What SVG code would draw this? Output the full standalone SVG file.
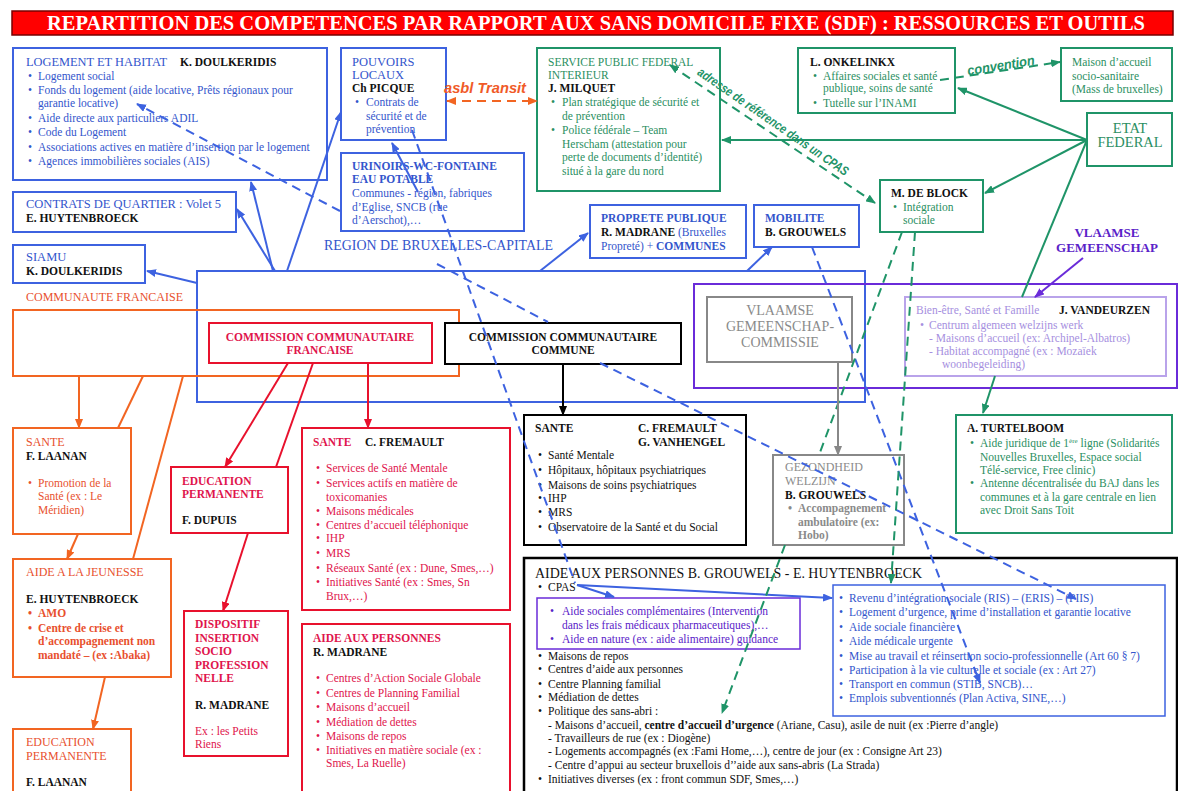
<svg xmlns="http://www.w3.org/2000/svg" width="1178" height="791" viewBox="0 0 1178 791">
<style>
svg{font-family:"Liberation Serif","Times New Roman",serif;font-size:11.5px}
.tb{fill:#3355cc}.tg{fill:#2b8f62}.to{fill:#e8502e}.tr{fill:#e0144c}.tk{fill:#111}
.tp{fill:#5a22c8}.tl{fill:#a68fe0}.tgr{fill:#8a8a8a}
.bd{font-weight:bold}
.box{fill:#fff;stroke-width:2}
.cont{fill:none;stroke-width:2}
.bb{stroke:#3d62e0}.bg{stroke:#1f9468}.bo{stroke:#f26522}.br{stroke:#e8112d}.bk{stroke:#000}
.bp{stroke:#6a2bd9}.bl{stroke:#b9a3ea}.bgr{stroke:#888}
.ln{fill:none;stroke-width:2}
.dash{stroke-dasharray:9 6}
.lab{font-family:"Liberation Sans",Arial,sans-serif;font-style:italic;font-weight:bold}
.cap{font-size:12.5px}
.c12{font-size:12px}
</style>
<defs>
<marker id="mb" viewBox="0 0 10 8" refX="9" refY="4" markerWidth="5" markerHeight="4" orient="auto-start-reverse"><path d="M0,0L10,4L0,8z" fill="#3d62e0"/></marker>
<marker id="mg" viewBox="0 0 10 8" refX="9" refY="4" markerWidth="5" markerHeight="4" orient="auto-start-reverse"><path d="M0,0L10,4L0,8z" fill="#1f9468"/></marker>
<marker id="mo" viewBox="0 0 10 8" refX="9" refY="4" markerWidth="5" markerHeight="4" orient="auto-start-reverse"><path d="M0,0L10,4L0,8z" fill="#f26522"/></marker>
<marker id="mr" viewBox="0 0 10 8" refX="9" refY="4" markerWidth="5" markerHeight="4" orient="auto-start-reverse"><path d="M0,0L10,4L0,8z" fill="#e8112d"/></marker>
<marker id="mk" viewBox="0 0 10 8" refX="9" refY="4" markerWidth="5" markerHeight="4" orient="auto-start-reverse"><path d="M0,0L10,4L0,8z" fill="#000"/></marker>
<marker id="mgr" viewBox="0 0 10 8" refX="9" refY="4" markerWidth="5" markerHeight="4" orient="auto-start-reverse"><path d="M0,0L10,4L0,8z" fill="#888"/></marker>
<marker id="mp" viewBox="0 0 10 8" refX="9" refY="4" markerWidth="5" markerHeight="4" orient="auto-start-reverse"><path d="M0,0L10,4L0,8z" fill="#6a2bd9"/></marker>
</defs>
<rect width="1178" height="791" fill="#fff"/>

<g id="title">
<rect x="12" y="11" width="1161" height="24" fill="#ff0000" stroke="#700" stroke-width="1.5"/>
<text x="596" y="30" text-anchor="middle" fill="#fff" font-weight="bold" font-size="21" textLength="1098" lengthAdjust="spacingAndGlyphs">REPARTITION DES COMPETENCES PAR RAPPORT AUX SANS DOMICILE FIXE (SDF) : RESSOURCES ET OUTILS</text>
</g>

<g id="region-bruxelles">
<rect class="cont bb" x="197" y="271" width="668" height="131"/>
<text class="tb" x="324" y="250" font-size="14" textLength="229" lengthAdjust="spacingAndGlyphs">REGION DE BRUXELLES-CAPITALE</text>
</g>
<g id="communaute-francaise">
<text class="to c12" x="26" y="301">COMMUNAUTE FRANCAISE</text>
<rect class="cont bo" x="13" y="310" width="446" height="66"/>
</g>
<g id="vlaamse-gemeenschap">
<rect class="cont bp" x="694" y="284" width="483" height="104"/>
<text class="tp bd" x="1107" y="237" font-size="13" text-anchor="middle">VLAAMSE</text>
<text class="tp bd" x="1107" y="252" font-size="13" text-anchor="middle">GEMEENSCHAP</text>
</g>

<g id="logement">
<rect class="box bb" x="13" y="48" width="314" height="132"/>
<text class="tb" x="26" y="66" font-size="12.4">LOGEMENT ET HABITAT</text>
<text class="tk bd" x="180" y="66">K. DOULKERIDIS</text>
<g class="tb">
<text x="28" y="80">•</text><text x="38" y="80">Logement social</text>
<text x="28" y="94">•</text><text x="38" y="94">Fonds du logement (aide locative, Prêts régionaux pour</text>
<text x="38" y="107">garantie locative)</text>
<text x="28" y="122">•</text><text x="38" y="122">Aide directe aux particuliers ADIL</text>
<text x="28" y="136">•</text><text x="38" y="136">Code du Logement</text>
<text x="28" y="151">•</text><text x="38" y="151">Associations actives en matière d’insertion par le logement</text>
<text x="28" y="165">•</text><text x="38" y="165">Agences immobilières sociales (AIS)</text>
</g>
</g>

<g id="contrats-quartier">
<rect class="box bb" x="13" y="192" width="223" height="40"/>
<text class="tb cap" x="26" y="208">CONTRATS DE QUARTIER : Volet 5</text>
<text class="tk bd" x="26" y="222">E. HUYTENBROECK</text>
</g>

<g id="siamu">
<rect class="box bb" x="13" y="245" width="132" height="38"/>
<text class="tb cap" x="26" y="261">SIAMU</text>
<text class="tk bd" x="26" y="275">K. DOULKERIDIS</text>
</g>

<g id="pouvoirs-locaux">
<rect class="box bb" x="341" y="48" width="105" height="92"/>
<text class="tb cap" x="352" y="66">POUVOIRS</text>
<text class="tb cap" x="352" y="79">LOCAUX</text>
<text class="tk bd" x="352" y="92">Ch PICQUE</text>
<text class="tb" x="355" y="106">•</text><text class="tb" x="366" y="106">Contrats de</text>
<text class="tb" x="366" y="120">sécurité et de</text>
<text class="tb" x="366" y="133">prévention</text>
</g>

<g id="urinoirs">
<rect class="box bb" x="341" y="153" width="183" height="78"/>
<text class="tb bd" x="352" y="170">URINOIRS-WC-FONTAINE</text>
<text class="tb bd" x="352" y="183">EAU POTABLE</text>
<text class="tb" x="352" y="197">Communes -  région, fabriques</text>
<text class="tb" x="352" y="211">d’Eglise, SNCB (rue</text>
<text class="tb" x="352" y="224">d’Aerschot),…</text>
</g>

<g id="spf-interieur">
<rect class="box bg" x="537" y="48" width="183" height="143"/>
<text class="tg" x="548" y="66">SERVICE PUBLIC FEDERAL</text>
<text class="tg" x="548" y="79">INTERIEUR</text>
<text class="tk bd" x="548" y="92">J. MILQUET</text>
<g class="tg">
<text x="551" y="106">•</text><text x="562" y="106">Plan stratégique de sécurité et</text>
<text x="562" y="120">de prévention</text>
<text x="551" y="134">•</text><text x="562" y="134">Police fédérale – Team</text>
<text x="562" y="148">Herscham (attestation pour</text>
<text x="562" y="161">perte de documents d’identité)</text>
<text x="562" y="175">situé à la gare du nord</text>
</g>
</g>

<g id="onkelinkx">
<rect class="box bg" x="798" y="48" width="157" height="65"/>
<text class="tk bd" x="810" y="66">L. ONKELINKX</text>
<g class="tg">
<text x="813" y="80">•</text><text x="823" y="80">Affaires sociales et santé</text>
<text x="823" y="92">publique, soins de santé</text>
<text x="813" y="107">•</text><text x="823" y="107">Tutelle sur l’INAMI</text>
</g>
</g>

<g id="maison-accueil">
<rect class="box bg" x="1061" y="48" width="111" height="53"/>
<text class="tg" x="1072" y="66">Maison d’accueil</text>
<text class="tg" x="1072" y="80">socio-sanitaire</text>
<text class="tg" x="1072" y="93">(Mass de bruxelles)</text>
</g>

<g id="etat-federal">
<rect class="box bg" x="1087" y="113" width="85" height="53"/>
<text class="tg" x="1130" y="133" font-size="14.5" text-anchor="middle">ETAT</text>
<text class="tg" x="1130" y="147" font-size="14.5" text-anchor="middle">FEDERAL</text>
</g>

<g id="de-block">
<rect class="box bg" x="880" y="180" width="103" height="52"/>
<text class="tk bd" x="891" y="197">M. DE BLOCK</text>
<text class="tg" x="893" y="211">•</text><text class="tg" x="903" y="211">Intégration</text>
<text class="tg" x="903" y="224">sociale</text>
</g>

<g id="proprete">
<rect class="box bb" x="590" y="205" width="156" height="53"/>
<text class="tb bd" x="601" y="222">PROPRETE PUBLIQUE</text>
<text x="601" y="236"><tspan class="tk bd">R. MADRANE</tspan><tspan class="tb">  (Bruxelles</tspan></text>
<text x="601" y="250" class="tb">Propreté) + <tspan class="bd">COMMUNES</tspan></text>
</g>

<g id="mobilite">
<rect class="box bb" x="754" y="205" width="105" height="42"/>
<text class="tb bd" x="765" y="222">MOBILITE</text>
<text class="tk bd" x="765" y="236">B. GROUWELS</text>
</g>

<g id="cocof">
<rect class="box br" x="209" y="323" width="223" height="40"/>
<text class="tr bd" x="320" y="341" text-anchor="middle">COMMISSION COMMUNAUTAIRE</text>
<text class="tr bd" x="320" y="354" text-anchor="middle">FRANCAISE</text>
</g>

<g id="cocom">
<rect class="box bk" x="445" y="323" width="236" height="41"/>
<text class="tk bd" x="563" y="341" text-anchor="middle">COMMISSION COMMUNAUTAIRE</text>
<text class="tk bd" x="563" y="354" text-anchor="middle">COMMUNE</text>
</g>

<g id="vgc">
<rect class="box bgr" x="707" y="297" width="145" height="65"/>
<text class="tgr" x="780" y="315" font-size="14" text-anchor="middle">VLAAMSE</text>
<text class="tgr" x="780" y="331" font-size="14" text-anchor="middle">GEMEENSCHAP-</text>
<text class="tgr" x="780" y="347" font-size="14" text-anchor="middle">COMMISSIE</text>
</g>

<g id="bien-etre">
<rect class="box bl" x="905" y="297" width="261" height="79"/>
<text class="tl" x="916" y="314">Bien-être, Santé et Famille</text>
<text class="tk bd" x="1059" y="314">J. VANDEURZEN</text>
<text class="tl" x="920" y="329">•</text><text class="tl" x="929" y="329">Centrum algemeen welzijns werk</text>
<text class="tl" x="929" y="342">- Maisons d’accueil (ex: Archipel-Albatros)</text>
<text class="tl" x="929" y="355">- Habitat accompagné (ex : Mozaïek</text>
<text class="tl" x="942" y="368">woonbegeleiding)</text>
</g>

<g id="turtelboom">
<rect class="box bg" x="956" y="415" width="216" height="118"/>
<text class="tk bd" x="967" y="432">A. TURTELBOOM</text>
<g class="tg">
<text x="970" y="447">•</text><text x="980" y="447">Aide juridique de 1<tspan font-size="7" dy="-4">ère</tspan><tspan dy="4"> ligne (Solidarités</tspan></text>
<text x="980" y="461">Nouvelles Bruxelles, Espace social</text>
<text x="980" y="474">Télé-service, Free clinic)</text>
<text x="970" y="487">•</text><text x="980" y="487">Antenne décentralisée du BAJ dans les</text>
<text x="980" y="501">communes et à la gare centrale en lien</text>
<text x="980" y="514">avec Droit Sans Toit</text>
</g>
</g>

<g id="sante-laanan">
<rect class="box bo" x="13" y="428" width="118" height="106"/>
<text class="to c12" x="26" y="446">SANTE</text>
<text class="tk bd" x="26" y="460">F. LAANAN</text>
<text class="to" x="28" y="487">•</text><text class="to" x="38" y="487">Promotion de la</text>
<text class="to" x="38" y="500">Santé (ex : Le</text>
<text class="to" x="38" y="514">Méridien)</text>
</g>

<g id="aide-jeunesse">
<rect class="box bo" x="13" y="559" width="158" height="118"/>
<text class="to c12" x="26" y="576">AIDE A LA JEUNESSE</text>
<text class="tk bd" x="26" y="603">E. HUYTENBROECK</text>
<g class="to bd">
<text x="28" y="617">•</text><text x="38" y="617">AMO</text>
<text x="28" y="632">•</text><text x="38" y="632">Centre de crise et</text>
<text x="38" y="645">d’accompagnement non</text>
<text x="38" y="659">mandaté – (ex :Abaka)</text>
</g>
</g>

<g id="education-laanan">
<rect class="box bo" x="13" y="729" width="118" height="70"/>
<text class="to c12" x="26" y="746">EDUCATION</text>
<text class="to c12" x="26" y="760">PERMANENTE</text>
<text class="tk bd" x="26" y="786">F. LAANAN</text>
</g>

<g id="education-dupuis">
<rect class="box br" x="171" y="467" width="117" height="66"/>
<text class="tr bd" x="182" y="485">EDUCATION</text>
<text class="tr bd" x="182" y="498">PERMANENTE</text>
<text class="tk bd" x="182" y="524">F. DUPUIS</text>
</g>

<g id="dispositif">
<rect class="box br" x="184" y="611" width="104" height="145"/>
<g class="tr bd">
<text x="195" y="628">DISPOSITIF</text>
<text x="195" y="642">INSERTION</text>
<text x="195" y="655">SOCIO</text>
<text x="195" y="669">PROFESSION</text>
<text x="195" y="682">NELLE</text>
</g>
<text class="tk bd" x="195" y="709">R. MADRANE</text>
<text class="tr" x="195" y="735">Ex : les Petits</text>
<text class="tr" x="195" y="748">Riens</text>
</g>

<g id="sante-fremault">
<rect class="box br" x="302" y="428" width="208" height="182"/>
<text class="tr bd" x="313" y="446">SANTE</text>
<text class="tk bd" x="365" y="446">C. FREMAULT</text>
<g class="tr">
<text x="316" y="472">•</text><text x="326" y="472">Services de Santé Mentale</text>
<text x="316" y="487">•</text><text x="326" y="487">Services actifs en matière de</text>
<text x="326" y="501">toxicomanies</text>
<text x="316" y="515">•</text><text x="326" y="515">Maisons médicales</text>
<text x="316" y="529">•</text><text x="326" y="529">Centres d’accueil téléphonique</text>
<text x="316" y="542">•</text><text x="326" y="542">IHP</text>
<text x="316" y="557">•</text><text x="326" y="557">MRS</text>
<text x="316" y="572">•</text><text x="326" y="572">Réseaux Santé (ex : Dune, Smes,…)</text>
<text x="316" y="586">•</text><text x="326" y="586">Initiatives Santé (ex : Smes, Sn</text>
<text x="326" y="600">Brux,…)</text>
</g>
</g>

<g id="aide-madrane">
<rect class="box br" x="302" y="624" width="208" height="175"/>
<text class="tr bd" x="313" y="642">AIDE AUX PERSONNES</text>
<text class="tk bd" x="313" y="656">R. MADRANE</text>
<g class="tr">
<text x="316" y="682">•</text><text x="326" y="682">Centres d’Action Sociale Globale</text>
<text x="316" y="697">•</text><text x="326" y="697">Centres de Planning Familial</text>
<text x="316" y="711">•</text><text x="326" y="711">Maisons d’accueil</text>
<text x="316" y="726">•</text><text x="326" y="726">Médiation de dettes</text>
<text x="316" y="740">•</text><text x="326" y="740">Maisons de repos</text>
<text x="316" y="754">•</text><text x="326" y="754">Initiatives en matière sociale (ex :</text>
<text x="326" y="767">Smes, La Ruelle)</text>
</g>
</g>

<g id="sante-cocom">
<rect class="box bk" x="524" y="415" width="222" height="130"/>
<text class="tk bd" x="535" y="432">SANTE</text>
<text class="tk bd" x="638" y="432">C. FREMAULT</text>
<text class="tk bd" x="638" y="446">G. VANHENGEL</text>
<g class="tk">
<text x="538" y="459">•</text><text x="548" y="459">Santé Mentale</text>
<text x="538" y="474">•</text><text x="548" y="474">Hôpitaux, hôpitaux psychiatriques</text>
<text x="538" y="489">•</text><text x="548" y="489">Maisons de soins psychiatriques</text>
<text x="538" y="502">•</text><text x="548" y="502">IHP</text>
<text x="538" y="516">•</text><text x="548" y="516">MRS</text>
<text x="538" y="531">•</text><text x="548" y="531">Observatoire de la Santé et du Social</text>
</g>
</g>

<g id="gezondheid">
<rect class="box bgr" x="773" y="455" width="131" height="90"/>
<text class="tgr c12" x="785" y="471">GEZONDHEID</text>
<text class="tgr c12" x="785" y="485">WELZIJN</text>
<text class="tk bd" x="785" y="499">B. GROUWELS</text>
<g class="tgr bd">
<text x="788" y="512">•</text><text x="798" y="512">Accompagnement</text>
<text x="798" y="526">ambulatoire (ex:</text>
<text x="798" y="539">Hobo)</text>
</g>
</g>

<g id="aide-personnes-cocom">
<rect x="524" y="558" width="653" height="240" fill="#fff" stroke="#000" stroke-width="2.5"/>
<text class="tk" x="535" y="578" font-size="14" textLength="387" lengthAdjust="spacingAndGlyphs">AIDE AUX PERSONNES  B. GROUWELS - E. HUYTENBROECK</text>
<text class="tk" x="538" y="591">•</text><text class="tk" x="548" y="591">CPAS</text>
<rect x="537" y="598" width="263" height="51" fill="#fff" stroke="#6a2bd9" stroke-width="1.5"/>
<g class="tp">
<text x="550" y="615">•</text><text x="562" y="615">Aide sociales complémentaires (Intervention</text>
<text x="562" y="629">dans les frais médicaux pharmaceutiques),…</text>
<text x="550" y="643">•</text><text x="562" y="643">Aide en nature (ex : aide alimentaire) guidance</text>
</g>
<g class="tk">
<text x="538" y="660">•</text><text x="548" y="660">Maisons de repos</text>
<text x="538" y="673">•</text><text x="548" y="673">Centres d’aide aux personnes</text>
<text x="538" y="688">•</text><text x="548" y="688">Centre Planning familial</text>
<text x="538" y="701">•</text><text x="548" y="701">Médiation de dettes</text>
<text x="538" y="715">•</text><text x="548" y="715">Politique des sans-abri :</text>
<text x="548" y="729">- Maisons d’accueil, <tspan class="bd">centre d’accueil d’urgence</tspan> (Ariane, Casu), asile de nuit (ex :Pierre d’angle)</text>
<text x="548" y="742">- Travailleurs de rue (ex : Diogène)</text>
<text x="548" y="755">- Logements accompagnés (ex :Fami Home,…), centre de jour (ex : Consigne Art 23)</text>
<text x="548" y="769">- Centre d’appui au secteur bruxellois d’’aide aux sans-abris (La Strada)</text>
<text x="538" y="783">•</text><text x="548" y="783">Initiatives diverses (ex : front commun SDF, Smes,…)</text>
</g>
<rect x="833" y="585" width="332" height="131" fill="#fff" stroke="#3d62e0" stroke-width="1.5"/>
<g class="tb">
<text x="839" y="602">•</text><text x="849" y="602">Revenu d’intégration sociale (RIS) – (ERIS) – (PIIS)</text>
<text x="839" y="616">•</text><text x="849" y="616">Logement d’urgence, prime d’installation et garantie locative</text>
<text x="839" y="631">•</text><text x="849" y="631">Aide sociale financière</text>
<text x="839" y="645">•</text><text x="849" y="645">Aide médicale urgente</text>
<text x="839" y="660">•</text><text x="849" y="660">Mise au travail et réinsertion socio-professionnelle (Art 60 § 7)</text>
<text x="839" y="674">•</text><text x="849" y="674">Participation à la vie culturelle et sociale (ex : Art 27)</text>
<text x="839" y="688">•</text><text x="849" y="688">Transport en commun    (STIB, SNCB)…</text>
<text x="839" y="702">•</text><text x="849" y="702">Emplois subventionnés (Plan Activa, SINE,…)</text>
</g>
</g>

<g id="connectors">
<g class="ln bb">
<path d="M275,271L237,209" marker-end="url(#mb)"/>
<path d="M273,271L251,182" marker-end="url(#mb)"/>
<path d="M287,271L341,112" marker-end="url(#mb)"/>
<path d="M197,283L147,271" marker-end="url(#mb)"/>
<path d="M418,192L392,143" marker-end="url(#mb)"/>
<path d="M540,271L588,233" marker-end="url(#mb)"/>
<path d="M747,271L772,247" marker-end="url(#mb)"/>
<path d="M577,585L614,597" marker-end="url(#mb)"/>
<path d="M577,585L832,598" marker-end="url(#mb)"/>
</g>
<g class="ln bb dash">
<path d="M340,211L137,104" marker-end="url(#mb)"/>
<path d="M437,264L548,322"/>
<path d="M600,363L1076,599" marker-end="url(#mb)"/>
<path d="M412,130L575,583"/>
<path d="M812,247L980,683" marker-end="url(#mb)"/>
</g>
<g class="ln bg">
<path d="M1087,140L958,88" marker-end="url(#mg)"/>
<path d="M1087,140L722,140" marker-end="url(#mg)"/>
<path d="M1087,140L985,193" marker-end="url(#mg)"/>
<path d="M1087,140L1022,297"/>
<path d="M995,376L983,413" marker-end="url(#mg)"/>
</g>
<g class="ln bg dash">
<path d="M670,65L875,203" marker-start="url(#mg)" marker-end="url(#mg)"/>
<path d="M940,80L1060,62" marker-end="url(#mg)"/>
<path d="M902,232L819,455"/>
<path d="M785,545L722,713" marker-end="url(#mg)"/>
<path d="M915,232L891,583" marker-end="url(#mg)"/>
</g>
<path class="ln bo dash" d="M447,101L537,101" marker-start="url(#mo)" marker-end="url(#mo)"/>
<g class="ln bo">
<path d="M79,376L79,428" marker-end="url(#mo)"/>
<path d="M143,376L118,428"/>
<path d="M183,376L133,559"/>
<path d="M78,534L67,559" marker-end="url(#mo)"/>
<path d="M105,677L93,729" marker-end="url(#mo)"/>
</g>
<g class="ln br">
<path d="M288,363L225,467" marker-end="url(#mr)"/>
<path d="M313,363L276,467"/>
<path d="M248,533L223,611" marker-end="url(#mr)"/>
<path d="M368,363L368,428" marker-end="url(#mr)"/>
</g>
<path class="ln bk" d="M563,364L563,415" marker-end="url(#mk)"/>
<path class="ln bgr" d="M838,362L838,455" marker-end="url(#mgr)"/>
<path class="ln bp" d="M1083,258L1035,297" marker-end="url(#mp)"/>
<text class="lab" x="444" y="93" font-size="14" fill="#f05a28" textLength="82" lengthAdjust="spacingAndGlyphs">asbl Transit</text>
<text class="lab" x="1001" y="70" font-size="13.5" fill="#1f9468" text-anchor="middle" textLength="68" lengthAdjust="spacingAndGlyphs" transform="rotate(-9 1001 66)">convention</text>
<text class="lab" x="773" y="126" font-size="13" fill="#1f9468" text-anchor="middle" textLength="180" lengthAdjust="spacingAndGlyphs" transform="rotate(34.5 773 122)">adresse de référence dans un CPAS</text>
</g>
</svg>
